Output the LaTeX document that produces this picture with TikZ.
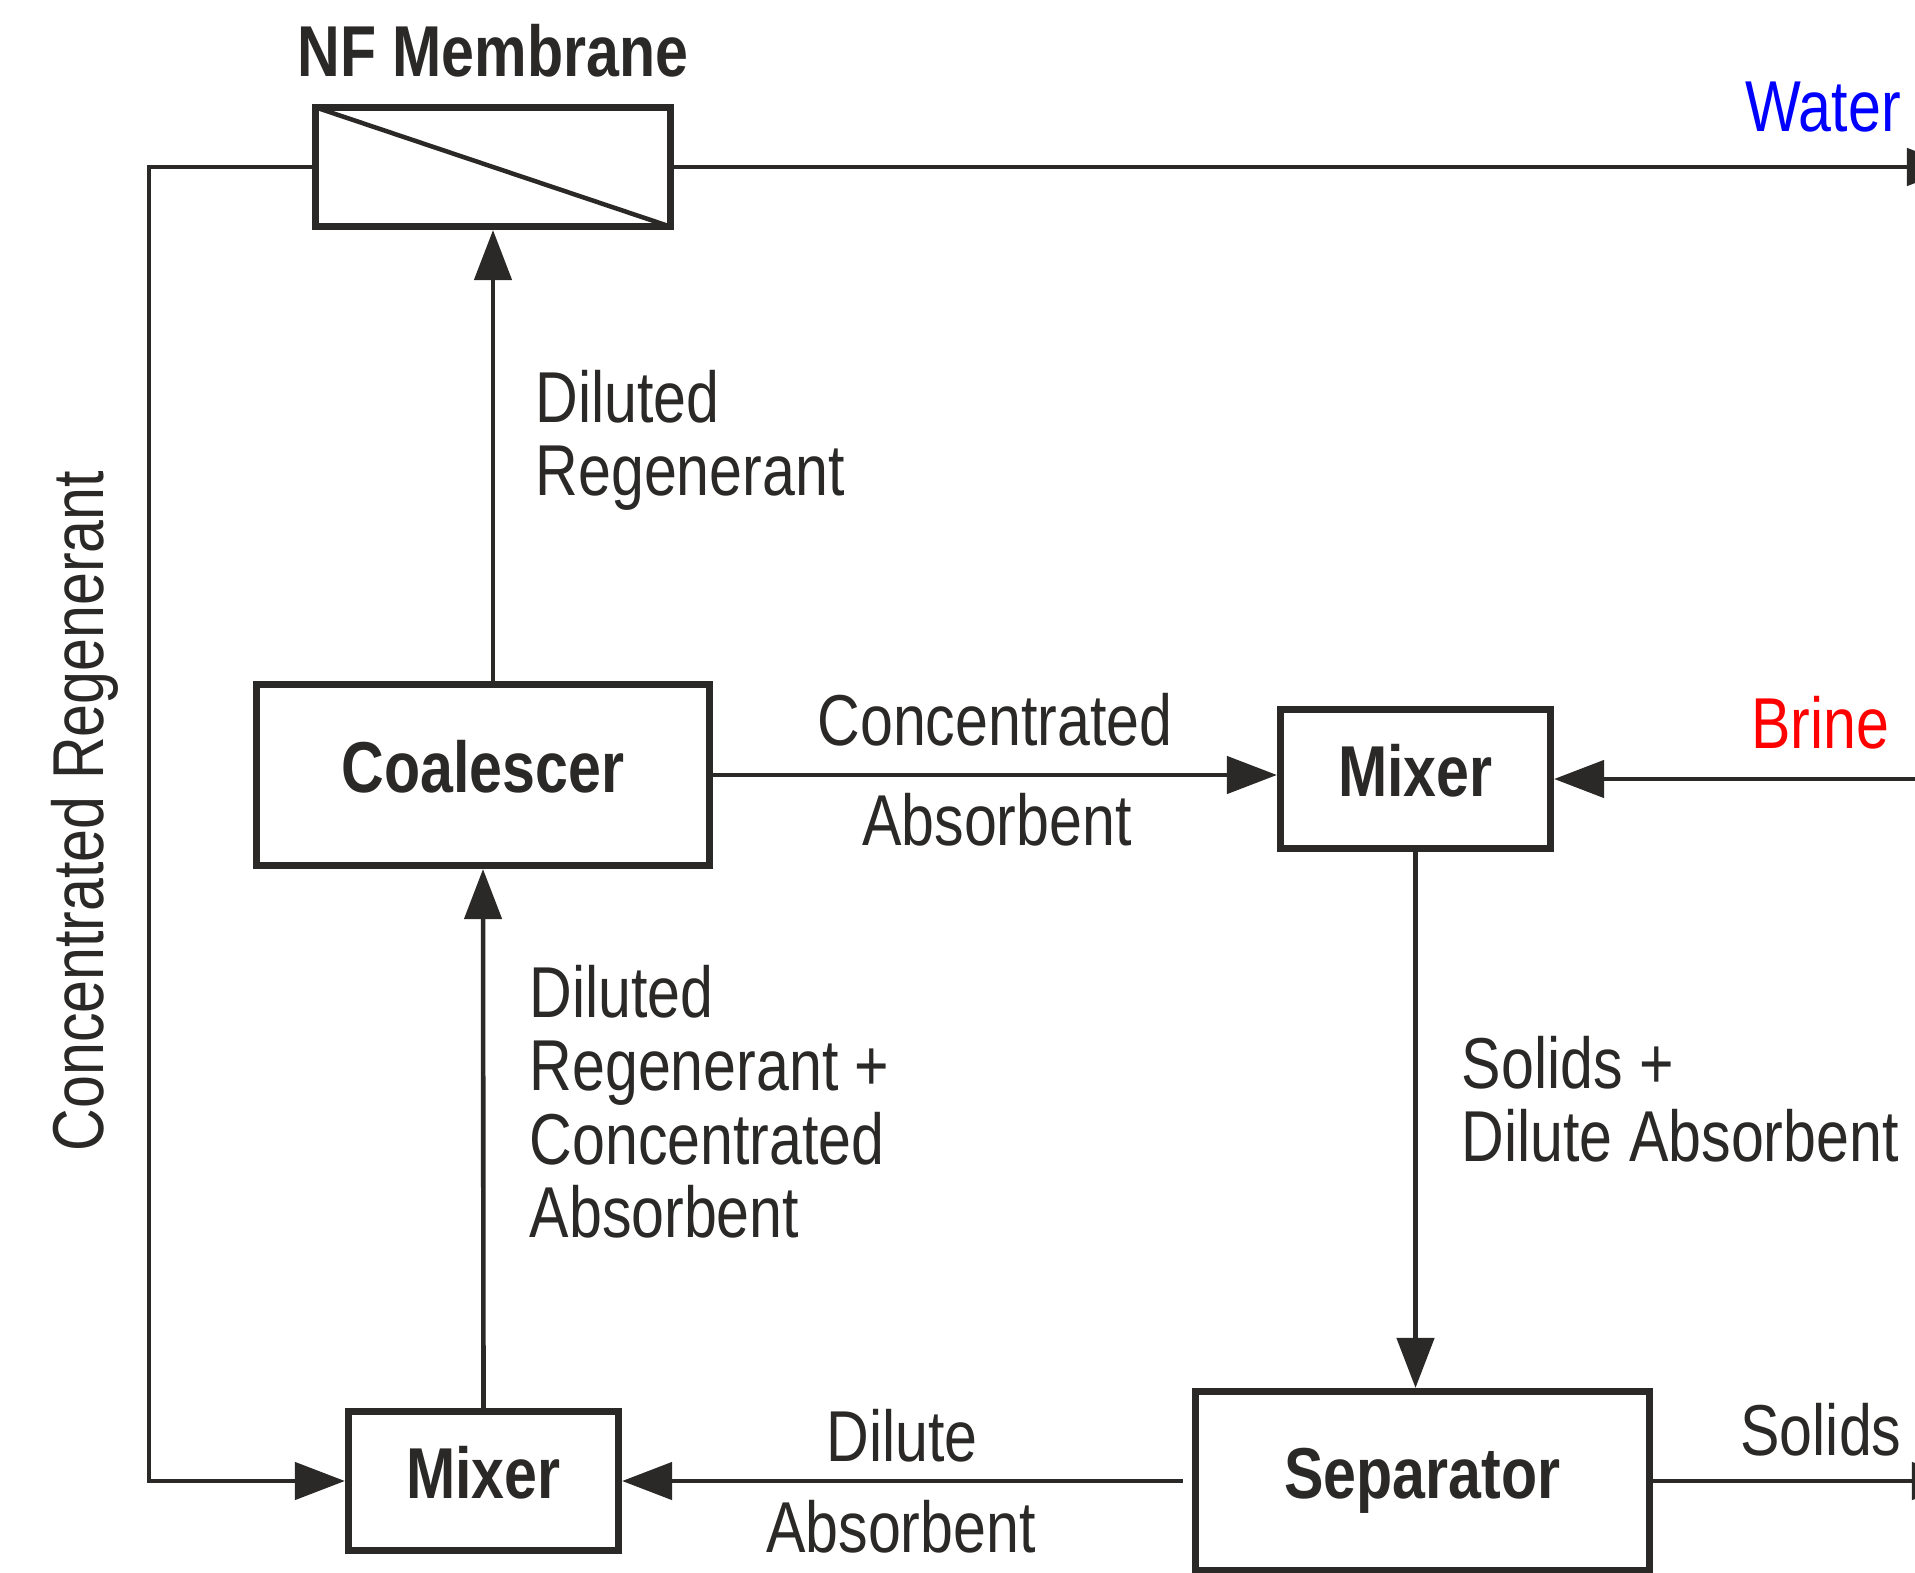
\documentclass[tikz,border=0pt]{standalone}
\usepackage{fontspec}
\setmainfont{Liberation Sans}[FakeStretch=0.82]
\usetikzlibrary{arrows.meta, positioning}
\definecolor{ink}{RGB}{43,41,40}
\definecolor{waterblue}{RGB}{0,0,255}
\definecolor{brinered}{RGB}{255,0,0}
\newcommand{\labelfont}{\fontsize{20.5pt}{20.9pt}\selectfont}
\tikzstyle{every node}=[font=\labelfont, text=ink]
\tikzstyle{unit}=[draw=ink, fill=white, rectangle, line width=0.07cm, font=\labelfont\bfseries, text height=0.52cm, text depth=0.18cm]
\tikzstyle{mixer}=[unit, minimum width=2.7cm, minimum height=1.39cm]
\tikzstyle{flow}=[draw=ink, line width=0.046cm, -{Triangle[length=0.5cm, width=0.37cm]}]
\tikzstyle{tag}=[inner sep=0pt, anchor=base]
\tikzstyle{title}=[tag, font=\labelfont\bfseries]
\tikzstyle{note}=[inner sep=0pt, anchor=north west, align=left]

\begin{document}
\begin{tikzpicture}[x=0.01cm, y=-0.01cm]
  \useasboundingbox (0,0) rectangle (1915,1573);
  \node[unit, minimum width=3.54cm, minimum height=1.19cm] (membrane) at (493,167) {};
  \node[title] (nftitle) at (493,77) {NF Membrane};
  \node[unit, minimum width=4.53cm, minimum height=1.81cm] (coalescer) at (483,775) {Coalescer};
  \node[mixer] (mixtop) at (1415.5,779) {Mixer};
  \node[mixer] (mixbot) at (483.5,1481) {Mixer};
  \node[unit, minimum width=4.54cm, minimum height=1.79cm] (separator) at (1422.5,1481) {Separator};

  \coordinate (loop) at (149,167);
  \coordinate (waterout) at (1957,167);
  \coordinate (brinein) at (1990,779);
  \coordinate (solidsout) at (1962,1481);

  \draw[draw=ink, line width=0.045cm] ([shift={(3.5,3.5)}]membrane.north west) -- ([shift={(-3.5,-3.5)}]membrane.south east);
  \draw[flow] (membrane.east) -- (waterout);
  \draw[flow] (membrane.west) -- (loop) |- (mixbot.west);
  \draw[flow] (coalescer.north -| membrane.south) -- (membrane.south);
  \draw[flow] (coalescer.east) -- (coalescer.east -| mixtop.west);
  \draw[flow] (brinein) -- (mixtop.east);
  \draw[flow] (mixtop.south) -- (mixtop.south |- separator.north);
  \draw[flow, shorten <=0.09cm] (separator.west) -- (mixbot.east);
  \draw[flow] (mixbot.north) -- (coalescer.south);
  \draw[flow] (separator.east) -- (solidsout);

  \node[tag, text=waterblue] (water) at (1823,132) {Water};
  \node[tag, text=brinered] (brine) at (1820,748) {Brine};
  \node[tag] (solids) at (1821,1455) {Solids};
  \node[tag] (concabs1) at (995,745) {Concentrated};
  \node[tag] (concabs2) at (997,845) {Absorbent};
  \node[tag] (dilabs1) at (902,1461) {Dilute};
  \node[tag] (dilabs2) at (901,1552) {Absorbent};
  \node[tag, rotate=90] (concreg) at (103,811) {Concentrated Regenerant};
  \node[note] (dilreg) at (535,369.4) {Diluted\\Regenerant};
  \node[note] (mixflow) at (529,964.4) {Diluted\\Regenerant +\\Concentrated\\Absorbent};
  \node[note] (sepfeed) at (1461,1035.4) {Solids +\\Dilute Absorbent};
\end{tikzpicture}
\end{document}
